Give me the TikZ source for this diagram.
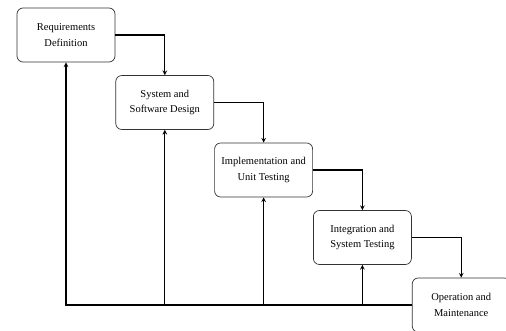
\documentclass[tikz,border=0pt]{standalone}
\usepackage{fontspec}
\setmainfont{Liberation Serif}
\usetikzlibrary {arrows, positioning}

\begin{document}
\begin{tikzpicture}[
    ->,
    >=stealth,
    x=1pt, y=1pt,
    node distance=67.5pt and 98.8pt,
    on grid,
    line width=1.1pt,
    phase/.style={draw=black!80, line width=0.7pt, rounded corners=6pt,
        minimum width=98pt, minimum height=54pt, align=center,
        font=\fontsize{10.5}{15.5}\selectfont},
]
    \useasboundingbox (0,0) rectangle (506,-331);

    \node[phase]                       (A) at (66,-35) {Requirements\\Definition};
    \node[phase, below right =of A]    (B) {System and\\Software Design};
    \node[phase, below right =of B]    (C) {Implementation and\\Unit Testing};
    \node[phase, below right =of C]    (D) {Integration and\\System Testing};
    \node[phase, below right =of D]    (E) {Operation and\\Maintenance};

    \draw (A.east) -| (B.north);
    \draw (B.east) -| (C.north);
    \draw (C.east) -| (D.north);
    \draw (D.east) -| (E.north);

    \draw (E.west) -| (A.south);
    \draw (B.south |- E.west) -- (B.south);
    \draw (C.south |- E.west) -- (C.south);
    \draw (D.south |- E.west) -- (D.south);
\end{tikzpicture}
\end{document}
